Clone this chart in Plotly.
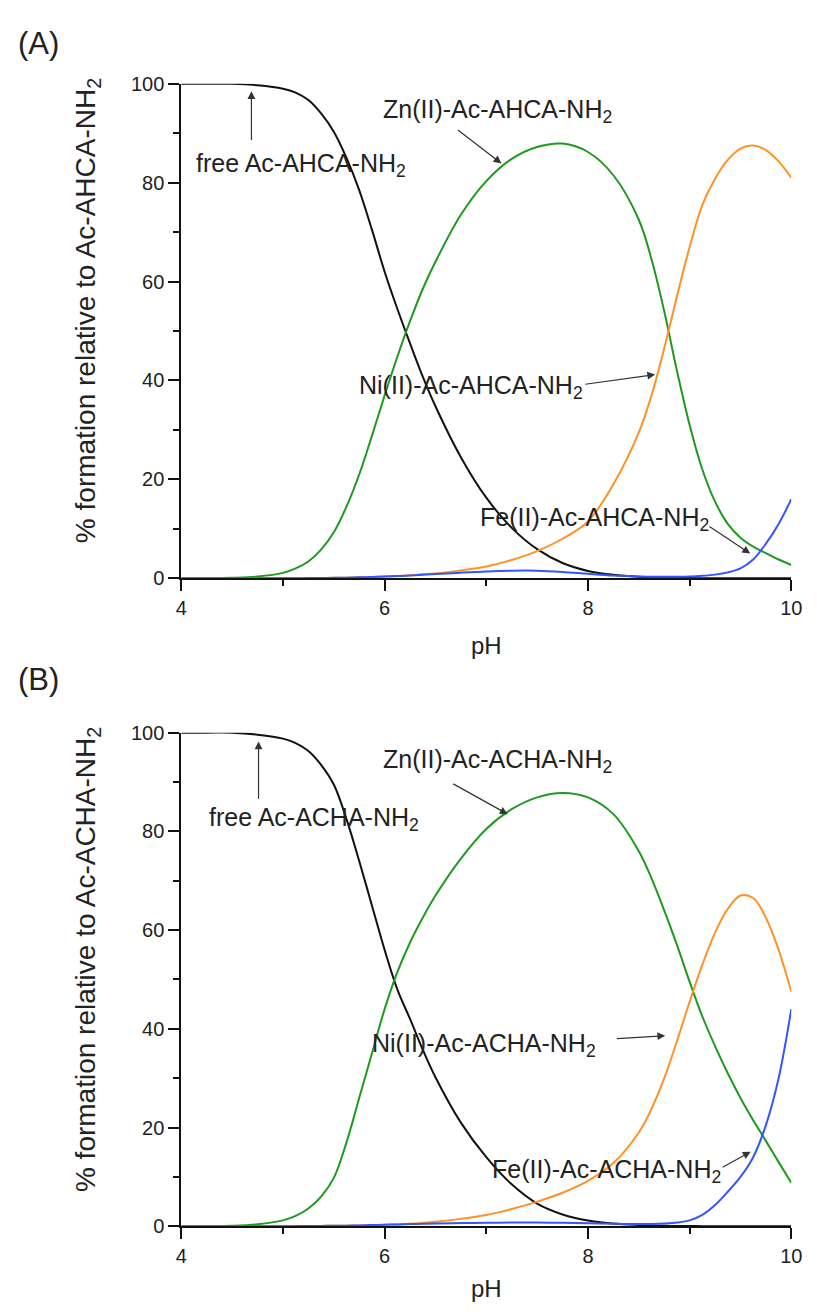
import plotly.graph_objects as go

# ---------------- data ----------------
ph = [4.0, 4.25, 4.5, 4.75, 5.0, 5.125, 5.25, 5.375, 5.5, 5.625, 5.75, 5.875,
      6.0, 6.125, 6.25, 6.375, 6.5, 6.75, 7.0, 7.25, 7.5, 7.75, 8.0, 8.25,
      8.5, 8.625, 8.75, 8.875, 9.0, 9.125, 9.25, 9.375, 9.5, 9.625, 9.75,
      9.875, 10.0]

# Panel A (Ac-AHCA-NH2)
a_free = [100, 100, 100, 99.7, 99, 98.2, 96.7, 94, 90.3, 85, 78.5, 70.5,
          62, 54.5, 47.5, 40.8, 34.8, 24.5, 16.3, 10.2, 5.9, 3.1, 1.5, 0.7,
          0.3, 0.2, 0.12, 0.08, 0.05, 0.03, 0.02, 0.01, 0, 0, 0,
          0, 0]
a_zn = [0, 0.02, 0.1, 0.35, 1.1, 2.0, 3.4, 5.8, 9.3, 14.5, 21, 28.8,
        37, 44.8, 52, 58.5, 64, 73.5, 80.3, 84.8, 87.2, 87.9, 86.2, 81.5,
        72.5, 64.5, 54, 42, 31, 22, 15.5, 11, 8.2, 6.4, 5.1,
        3.8, 2.7]
a_ni = [0, 0, 0, 0, 0.02, 0.03, 0.05, 0.07, 0.1, 0.14, 0.2, 0.27,
        0.35, 0.45, 0.6, 0.8, 1.0, 1.6, 2.4, 3.7, 5.5, 8, 11.5, 19,
        29.5, 37, 46.5, 57, 67, 75.5, 80.8, 84.6, 86.9, 87.5, 86.6,
        84.3, 81]
a_fe = [0, 0, 0, 0, 0.02, 0.03, 0.05, 0.07, 0.1, 0.14, 0.2, 0.27,
        0.35, 0.45, 0.55, 0.7, 0.85, 1.15, 1.4, 1.55, 1.55, 1.3, 0.9, 0.55,
        0.38, 0.32, 0.3, 0.3, 0.35, 0.5, 0.75, 1.2, 2.0, 3.8, 7.0,
        11, 16]

# Panel B (Ac-ACHA-NH2)
b_free = [100, 100, 100, 99.6, 98.8, 97.9, 96.3, 93.5, 89.5, 82.5, 74, 65,
          56, 48, 42, 35.8, 30.2, 21, 14, 8.5, 4.6, 2.4, 1.15, 0.55,
          0.25, 0.15, 0.1, 0.06, 0.04, 0.02, 0.01, 0, 0, 0, 0,
          0, 0]
b_zn = [0, 0.02, 0.1, 0.4, 1.2, 2.1, 3.6, 6, 9.8, 17, 26, 35,
        44, 51.5, 57.5, 62.5, 67, 74.5, 80.5, 84.5, 86.9, 87.8, 86.9, 83.5,
        76, 70.5, 64, 57, 49.5, 42.5, 36.5, 31, 26, 21.5, 17.3,
        13, 8.8]
b_ni = [0, 0, 0, 0, 0.02, 0.03, 0.05, 0.07, 0.1, 0.13, 0.18, 0.24,
        0.3, 0.38, 0.5, 0.68, 0.9, 1.5, 2.3, 3.5, 5.0, 6.8, 9.2, 12.8,
        19, 23.8, 30, 37.5, 45.5, 53, 59.5, 64.3, 67, 66.5, 62.5,
        56, 47.5]
b_fe = [0, 0, 0, 0, 0.02, 0.03, 0.05, 0.07, 0.1, 0.13, 0.18, 0.24,
        0.3, 0.37, 0.45, 0.5, 0.55, 0.65, 0.7, 0.75, 0.75, 0.7, 0.6, 0.5,
        0.45, 0.45, 0.55, 0.75, 1.2, 2.3, 4.3, 7, 10, 14, 20.5,
        30, 44]

x_ticks = [4, 6, 8, 10]
y_ticks = [0, 20, 40, 60, 80, 100]

colors = {"free": "#111111", "zn": "#1e9a1e", "ni": "#ff9226", "fe": "#3355ff"}

W, H = 817, 1312
FONT = "Liberation Sans, Arial, sans-serif"


def px_x(p):
    return p / W


def px_y(p):
    return 1 - p / H


fig = go.Figure()

panels = [
    ("x", "y", [a_free, a_zn, a_ni, a_fe]),
    ("x2", "y2", [b_free, b_zn, b_ni, b_fe]),
]
for xa, ya, series in panels:
    for key, vals in zip(["free", "zn", "ni", "fe"], series):
        fig.add_trace(go.Scatter(
            x=ph, y=vals, mode="lines", xaxis=xa, yaxis=ya,
            line=dict(color=colors[key], width=2, shape="spline", smoothing=1.0),
            showlegend=False, hoverinfo="skip"))

axis_common = dict(
    showline=True, linecolor="#111", linewidth=2, ticks="outside",
    ticklen=11, tickwidth=2, tickcolor="#111", showgrid=False, zeroline=False,
    tickfont=dict(family=FONT, size=20, color="#222"),
)
minor_x = dict(dtick=1, ticks="outside", ticklen=6, tickwidth=2, tickcolor="#111")
minor_y = dict(dtick=10, ticks="outside", ticklen=6, tickwidth=2, tickcolor="#111")
xdom = [px_x(179), px_x(802)]
fig.update_layout(
    width=W, height=H, margin=dict(l=0, r=0, t=0, b=0),
    paper_bgcolor="white", plot_bgcolor="white",
    xaxis=dict(domain=xdom, range=[4, 10], tickvals=x_ticks, anchor="y",
               minor=minor_x, **axis_common),
    yaxis=dict(domain=[px_y(577), px_y(74)], range=[0, 100], tickvals=y_ticks,
               anchor="x", minor=minor_y, **axis_common),
    xaxis2=dict(domain=xdom, range=[4, 10], tickvals=x_ticks, anchor="y2",
                minor=minor_x, **axis_common),
    yaxis2=dict(domain=[px_y(1236), px_y(734)], range=[0, 100], tickvals=y_ticks,
                anchor="x2", minor=minor_y, **axis_common),
)

ann = []
tfont = dict(family=FONT, size=25, color="#222")
yfont = dict(family=FONT, size=28, color="#222")

# panel labels and axis titles
for lbl, yy in [("(A)", 33), ("(B)", 680)]:
    ann.append(dict(text=lbl, xref="paper", yref="paper", x=px_x(10), y=px_y(yy),
                    xanchor="left", yanchor="middle", showarrow=False,
                    font=dict(family=FONT, size=31, color="#222")))
ann.append(dict(text="% formation relative to Ac-AHCA-NH<sub>2</sub>", xref="paper",
                yref="paper", x=px_x(84), y=px_y(305), textangle=-90, xanchor="center",
                yanchor="middle", showarrow=False, font=yfont))
ann.append(dict(text="% formation relative to Ac-ACHA-NH<sub>2</sub>", xref="paper",
                yref="paper", x=px_x(84), y=px_y(965), textangle=-90, xanchor="center",
                yanchor="middle", showarrow=False, font=yfont))
for yy in [645, 1299]:
    ann.append(dict(text="pH", xref="paper", yref="paper", x=px_x(491), y=px_y(yy),
                    xanchor="center", yanchor="middle", showarrow=False,
                    font=dict(family=FONT, size=24, color="#222")))

# species labels: (text, x, y) in data coords
labels_a = [
    ("free Ac-AHCA-NH<sub>2</sub>", 4.125, 83.5),
    ("Zn(II)-Ac-AHCA-NH<sub>2</sub>", 5.965, 94.5),
    ("Ni(II)-Ac-AHCA-NH<sub>2</sub>", 5.724, 38.6),
    ("Fe(II)-Ac-AHCA-NH<sub>2</sub>", 6.918, 11.9),
]
labels_b = [
    ("free Ac-ACHA-NH<sub>2</sub>", 4.25, 82.5),
    ("Zn(II)-Ac-ACHA-NH<sub>2</sub>", 5.965, 94.2),
    ("Ni(II)-Ac-ACHA-NH<sub>2</sub>", 5.86, 36.7),
    ("Fe(II)-Ac-ACHA-NH<sub>2</sub>", 7.04, 11.2),
]
# arrows: (tail x, tail y, head x, head y)
arrows_a = [
    (4.69, 88.3, 4.69, 98.5),
    (6.706, 90.9, 7.149, 83.9),
    (7.958, 39.2, 8.661, 41.2),
    (9.18, 10.7, 9.596, 5.0),
]
arrows_b = [
    (4.76, 86.3, 4.76, 98.2),
    (6.66, 89.8, 7.21, 83.5),
    (8.27, 38.0, 8.76, 38.6),
    (9.31, 11.8, 9.60, 15.1),
]
for xr, yr, labels, arrows in [("x", "y", labels_a, arrows_a),
                               ("x2", "y2", labels_b, arrows_b)]:
    for t, lx, ly in labels:
        ann.append(dict(text=t, xref=xr, yref=yr, x=lx, y=ly, xanchor="left",
                        yanchor="middle", showarrow=False, font=tfont))
    for tx, ty, hx, hy in arrows:
        ann.append(dict(text="", xref=xr, yref=yr, x=hx, y=hy, axref=xr, ayref=yr,
                        ax=tx, ay=ty, showarrow=True, arrowhead=2, arrowsize=1.3,
                        arrowwidth=1.2, arrowcolor="#333", standoff=0, startstandoff=0))

fig.update_layout(annotations=ann)
fig.write_html("out.html")
